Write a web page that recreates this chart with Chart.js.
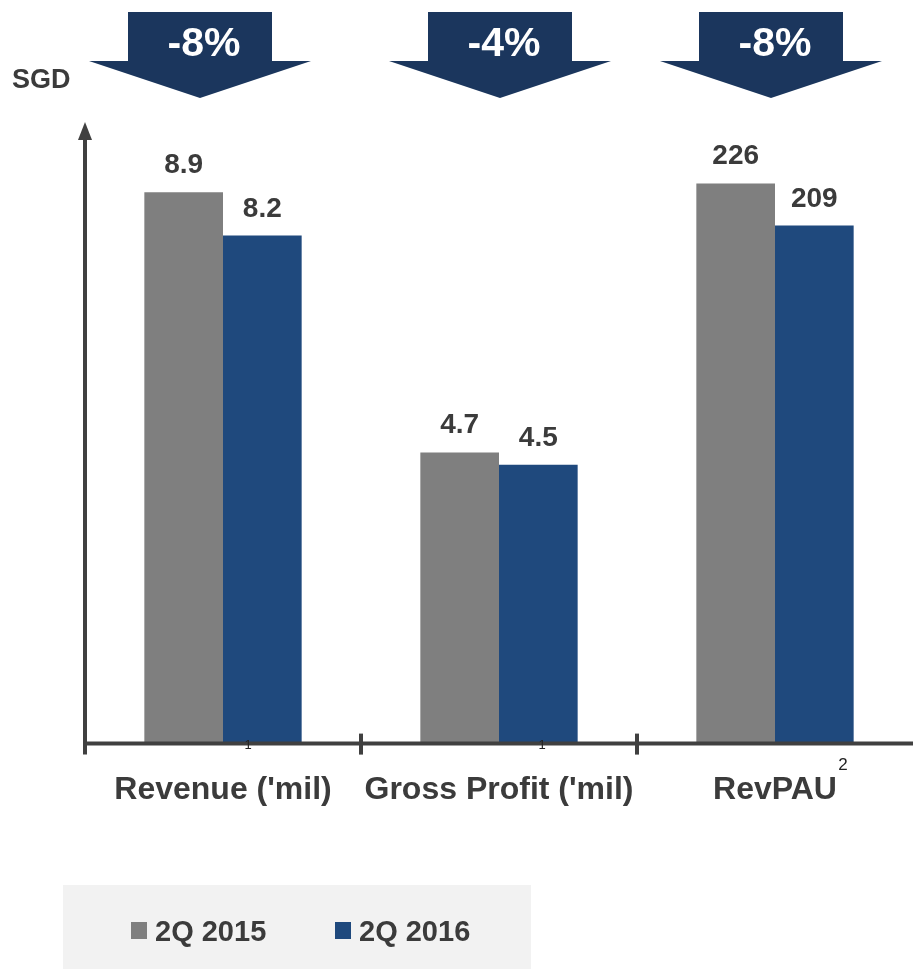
<!DOCTYPE html>
<html lang="en">
<head>
<meta charset="UTF-8">
<title>2Q 2016 vs 2Q 2015</title>
<script src="https://cdn.jsdelivr.net/npm/chart.js"></script>
<style>
    html, body { margin: 0; padding: 0; background: #fff; }
    #wrap { width: 913px; height: 969px; position: relative; }
</style>
</head>
<body>
<div id="wrap"><canvas id="c"></canvas></div>
<script>
    const categories = ["Revenue ('mil)", "Gross Profit ('mil)", "RevPAU"];
    const seriesNames = ['2Q 2015', '2Q 2016'];
    // revenue and gross profit share one scale, RevPAU has its own
    const mil2015 = [8.9, 4.7, null];
    const mil2016 = [8.2, 4.5, null];
    const revpau2015 = [null, null, 226];
    const revpau2016 = [null, null, 209];
    const changes = ['-8%', '-4%', '-8%'];
    const footnotes = ['1', '1', '2'];

    const GRAY = '#7f7f7f';
    const BLUE = '#1f497d';
    const NAVY = '#1b365d';
    const INK = '#3b3b3b';
    const FONT = '"Liberation Sans", Arial, sans-serif';

    const decor = {
        id: 'decor',
        afterDraw(chart) {
            const ctx = chart.ctx;
            const area = chart.chartArea;
            const x = chart.scales.x;
            ctx.save();

            // y axis with arrow head
            ctx.strokeStyle = '#404040';
            ctx.fillStyle = '#404040';
            ctx.lineWidth = 4;
            ctx.beginPath();
            ctx.moveTo(area.left, area.bottom + 11);
            ctx.lineTo(area.left, area.top + 10);
            ctx.stroke();
            ctx.beginPath();
            ctx.moveTo(area.left, area.top - 2);
            ctx.lineTo(area.left - 7, area.top + 16);
            ctx.lineTo(area.left + 7, area.top + 16);
            ctx.closePath();
            ctx.fill();

            // x axis and separators
            ctx.beginPath();
            ctx.moveTo(area.left, area.bottom);
            ctx.lineTo(area.right, area.bottom);
            ctx.stroke();
            for (let i = 1; i < categories.length; i++) {
                const bx = (x.getPixelForValue(i - 1) + x.getPixelForValue(i)) / 2;
                ctx.beginPath();
                ctx.moveTo(bx, area.bottom - 10);
                ctx.lineTo(bx, area.bottom + 11);
                ctx.stroke();
            }

            // footnote marks
            ctx.fillStyle = '#222';
            ctx.textAlign = 'center';
            ctx.textBaseline = 'middle';
            ctx.font = '13px ' + FONT;
            ctx.fillText(footnotes[0], x.getPixelForValue(0) + 25, area.bottom + 2);
            ctx.fillText(footnotes[1], x.getPixelForValue(1) + 43, area.bottom + 2);
            ctx.font = '17px ' + FONT;
            ctx.fillText(footnotes[2], x.getPixelForValue(2) + 68, area.bottom + 22);

            // SGD unit
            ctx.fillStyle = INK;
            ctx.textAlign = 'left';
            ctx.font = 'bold 27px ' + FONT;
            ctx.fillText('SGD', 12, 81);

            // change arrows
            const shift = [-23, 1, -4];
            changes.forEach((txt, i) => {
                const cx = x.getPixelForValue(i) + shift[i];
                ctx.fillStyle = NAVY;
                ctx.beginPath();
                ctx.moveTo(cx - 72, 12);
                ctx.lineTo(cx + 72, 12);
                ctx.lineTo(cx + 72, 61);
                ctx.lineTo(cx + 111, 61);
                ctx.lineTo(cx, 98);
                ctx.lineTo(cx - 111, 61);
                ctx.lineTo(cx - 72, 61);
                ctx.closePath();
                ctx.fill();
                ctx.fillStyle = '#fff';
                ctx.textAlign = 'center';
                ctx.font = 'bold 41px ' + FONT;
                ctx.fillText(txt, cx + 4, 45);
            });

            // legend box
            ctx.fillStyle = '#f2f2f2';
            ctx.fillRect(63, 885, 468, 84);
            const legendX = [131, 335];
            ctx.font = 'bold 29px ' + FONT;
            ctx.textAlign = 'left';
            for (let i = 0; i < 2; i++) {
                const ds = chart.data.datasets[i];
                ctx.fillStyle = ds.backgroundColor;
                ctx.fillRect(legendX[i], 922, 16, 17);
                ctx.fillStyle = INK;
                ctx.fillText(ds.label, legendX[i] + 24, 933);
            }
            ctx.restore();
        },
        afterDatasetsDraw(chart) {
            const ctx = chart.ctx;
            ctx.save();
            ctx.fillStyle = INK;
            ctx.font = 'bold 28px ' + FONT;
            ctx.textAlign = 'center';
            ctx.textBaseline = 'alphabetic';
            chart.data.datasets.forEach((ds, di) => {
                const meta = chart.getDatasetMeta(di);
                meta.data.forEach((bar, j) => {
                    const v = ds.data[j];
                    if (v === null || v === undefined) return;
                    ctx.fillText(String(v), bar.x, bar.y - 19);
                });
            });
            ctx.restore();
        }
    };

    const barOpts = { categoryPercentage: 0.57, barPercentage: 1.0, skipNull: true, borderWidth: 0 };

    new Chart(document.getElementById('c'), {
        type: 'bar',
        data: {
            labels: categories,
            datasets: [
                { label: seriesNames[0], data: mil2015, backgroundColor: GRAY, yAxisID: 'y', ...barOpts },
                { label: seriesNames[1], data: mil2016, backgroundColor: BLUE, yAxisID: 'y', ...barOpts },
                { label: seriesNames[0], data: revpau2015, backgroundColor: GRAY, yAxisID: 'y2', ...barOpts },
                { label: seriesNames[1], data: revpau2016, backgroundColor: BLUE, yAxisID: 'y2', ...barOpts }
            ]
        },
        options: {
            responsive: true,
            maintainAspectRatio: false,
            animation: false,
            layout: { padding: { top: 124, left: 85, right: 0, bottom: 141 } },
            plugins: {
                legend: { display: false },
                tooltip: { enabled: false }
            },
            scales: {
                x: {
                    grid: { display: false },
                    border: { display: false },
                    ticks: {
                        color: INK,
                        padding: 19,
                        font: { family: FONT, size: 32, weight: 'bold' }
                    }
                },
                y: { display: false, min: 0, max: 10 },
                y2: { display: false, min: 0, max: 250 }
            }
        },
        plugins: [decor]
    });
</script>
</body>
</html>
